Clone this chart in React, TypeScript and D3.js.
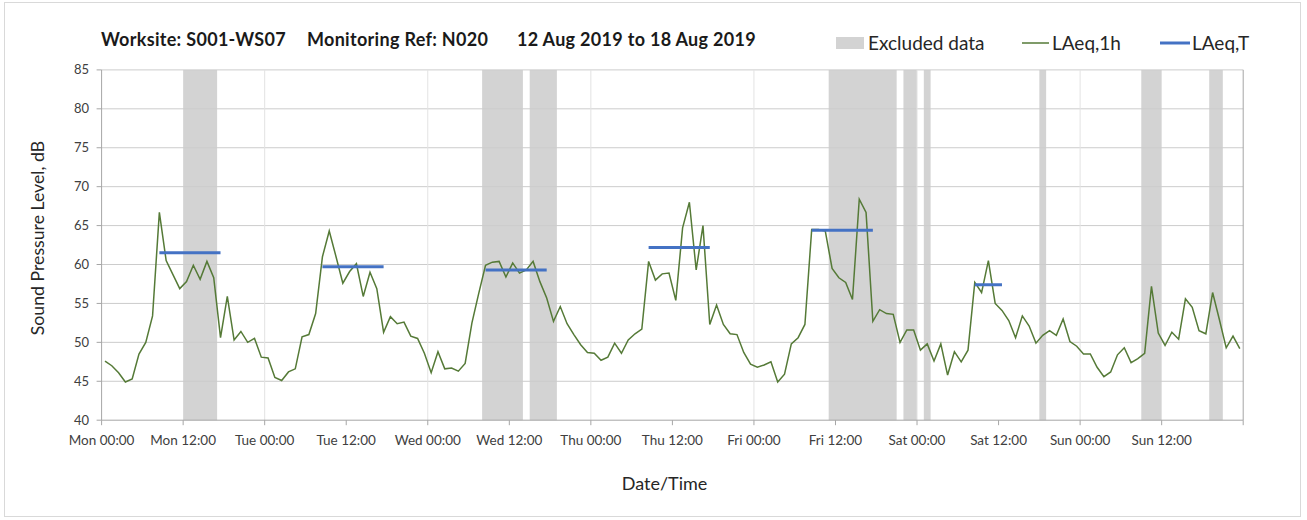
import React from "react";
import * as d3 from "d3";

// ---- Data ----
const dayLabels = ["Mon", "Tue", "Wed", "Thu", "Fri", "Sat", "Sun"];
const yTicks = [40, 45, 50, 55, 60, 65, 70, 75, 80, 85];

// LAeq,1h — hourly values from Mon 00:00 (hour 0) to Sun 23:00 (hour 167)
const laeq1h = [
  // Mon
  47.6, 47.0, 46.1, 44.9, 45.3, 48.5, 50.0, 53.4, 66.7, 60.5, 58.7, 56.9,
  57.8, 59.9, 58.1, 60.4, 58.3, 50.6, 55.9, 50.3, 51.4, 50.0, 50.5, 48.1,
  // Tue
  48.0, 45.5, 45.1, 46.2, 46.6, 50.7, 51.0, 53.7, 61.0, 64.3, 61.0, 57.6,
  59.1, 60.1, 55.9, 59.0, 56.9, 51.3, 53.3, 52.4, 52.6, 50.8, 50.5, 48.6,
  // Wed
  46.1, 48.8, 46.6, 46.7, 46.3, 47.3, 52.5, 56.3, 59.9, 60.3, 60.4, 58.4,
  60.2, 58.9, 59.3, 60.4, 57.8, 55.7, 52.7, 54.6, 52.4, 51.0, 49.7, 48.7,
  // Thu
  48.6, 47.7, 48.1, 49.9, 48.6, 50.3, 51.1, 51.7, 60.4, 58.0, 58.8, 58.9,
  55.4, 64.7, 68.0, 59.3, 65.0, 52.3, 54.8, 52.3, 51.1, 51.0, 48.7, 47.2,
  // Fri
  46.8, 47.1, 47.5, 44.9, 45.9, 49.8, 50.6, 52.3, 64.5, 64.5, 64.3, 59.5,
  58.3, 57.7, 55.5, 68.4, 66.7, 52.7, 54.2, 53.7, 53.6, 50.0, 51.6, 51.6,
  // Sat
  49.0, 49.8, 47.6, 49.8, 45.8, 48.8, 47.5, 49.0, 57.7, 56.4, 60.5, 55.0,
  54.1, 52.8, 50.6, 53.4, 52.1, 49.9, 50.9, 51.5, 50.9, 53.0, 50.1, 49.5,
  // Sun
  48.5, 48.5, 46.8, 45.6, 46.2, 48.4, 49.3, 47.4, 47.9, 48.6, 57.2, 51.2,
  49.6, 51.3, 50.4, 55.6, 54.5, 51.5, 51.1, 56.4, 52.9, 49.3, 50.8, 49.2,
];

// LAeq,T — daytime averages (start hour, end hour, value)
const ltStart = [8, 32, 56, 80, 104, 128];
const ltEnd = [17, 41, 65, 89, 113, 132];
const ltValue = [61.5, 59.7, 59.3, 62.2, 64.4, 57.4];

// Excluded data periods (hours from Mon 00:00)
const exStart = [12, 56, 63, 107, 118, 121, 138, 153, 163];
const exEnd = [17, 62, 67, 117, 120, 122, 139, 156, 165];

const pad2 = (n: number) => (n < 10 ? "0" + n : "" + n);

export default function App() {
  const W = 1307;
  const H = 520;
  const left = 101.6;
  const right = 1243.2;
  const top = 69.9;
  const bottom = 420.2;

  const x = d3.scaleLinear().domain([0, 168]).range([left, right]);
  const y = d3.scaleLinear().domain([40, 85]).range([bottom, top]);

  const line = d3
    .line<number>()
    .x((_, i) => x(i + 0.5))
    .y((d) => y(d));

  const font = "Lato, 'Open Sans', sans-serif";
  const xTicks = d3.range(0, 169, 12);
  const dayGrid = d3.range(24, 169, 24);

  return (
    <svg
      width={W}
      height={H}
      style={{ position: "absolute", left: 0, top: 0, background: "#fff" }}
      fontFamily={font}
    >
      <rect x={4.5} y={2.5} width={1296} height={514} fill="#fff" stroke="#d9d9d9" />

      {/* Title */}
      <g fontWeight="bold" fontSize={18} fill="#1a1a1a" letterSpacing={0.3}>
        <text x={101} y={46}>Worksite: S001-WS07</text>
        <text x={307} y={46}>Monitoring Ref: N020</text>
        <text x={517} y={46}>12 Aug 2019 to 18 Aug 2019</text>
      </g>

      {/* Legend */}
      <g fontSize={19} fill="#262626">
        <rect x={836} y={37} width={28} height={12} fill="#d3d3d3" />
        <text x={868} y={50}>Excluded data</text>
        <line x1={1022} x2={1049} y1={43} y2={43} stroke="#557a37" strokeWidth={1.5} />
        <text x={1052} y={50}>LAeq,1h</text>
        <line x1={1160} x2={1190} y1={43} y2={43} stroke="#4472c4" strokeWidth={3} />
        <text x={1192} y={50}>LAeq,T</text>
      </g>

      {/* Excluded bands */}
      {exStart.map((s, i) => (
        <rect
          key={"ex" + i}
          x={x(s)}
          y={top}
          width={x(exEnd[i]) - x(s)}
          height={bottom - top}
          fill="#d3d3d3"
        />
      ))}

      {/* Horizontal gridlines */}
      {yTicks.slice(1).map((t) => (
        <line key={"hg" + t} x1={left} x2={right} y1={y(t)} y2={y(t)} stroke="#cccccc" strokeWidth={1} />
      ))}
      {/* Vertical gridlines */}
      {dayGrid.map((t) => (
        <line
          key={"vg" + t}
          x1={x(t)}
          x2={x(t)}
          y1={top}
          y2={bottom}
          stroke={t === 168 ? "#a6a6a6" : "#e3e3e3"}
          strokeWidth={1}
        />
      ))}

      {/* Axes */}
      <line x1={left} x2={left} y1={top} y2={bottom} stroke="#a6a6a6" />
      <line x1={left} x2={right} y1={bottom} y2={bottom} stroke="#a6a6a6" />
      {yTicks.map((t) => (
        <g key={"yt" + t}>
          <line x1={left - 5} x2={left} y1={y(t)} y2={y(t)} stroke="#a6a6a6" />
          <text x={89} y={y(t)} dy="0.35em" textAnchor="end" fontSize={13} fill="#404040">
            {t}
          </text>
        </g>
      ))}
      {xTicks.map((t) => (
        <g key={"xt" + t}>
          <line x1={x(t)} x2={x(t)} y1={bottom} y2={bottom + 5} stroke="#a6a6a6" />
          {t < 168 && (
            <text x={x(t)} y={445} textAnchor="middle" fontSize={13.5} fill="#404040">
              {dayLabels[Math.floor(t / 24)] + " " + pad2(t % 24) + ":00"}
            </text>
          )}
        </g>
      ))}

      {/* LAeq,1h line */}
      <path d={line(laeq1h) || ""} fill="none" stroke="#557a37" strokeWidth={1.5} />

      {/* LAeq,T segments */}
      {ltStart.map((s, i) => (
        <line
          key={"lt" + i}
          x1={x(s + 0.5)}
          x2={x(ltEnd[i] + 0.5)}
          y1={y(ltValue[i])}
          y2={y(ltValue[i])}
          stroke="#4472c4"
          strokeWidth={3}
        />
      ))}

      {/* Axis titles */}
      <text x={664.5} y={490} textAnchor="middle" fontSize={18} fill="#262626">
        Date/Time
      </text>
      <text
        transform="translate(44,238) rotate(-90)"
        textAnchor="middle"
        fontSize={17.7}
        fill="#262626"
      >
        Sound Pressure Level, dB
      </text>
    </svg>
  );
}
